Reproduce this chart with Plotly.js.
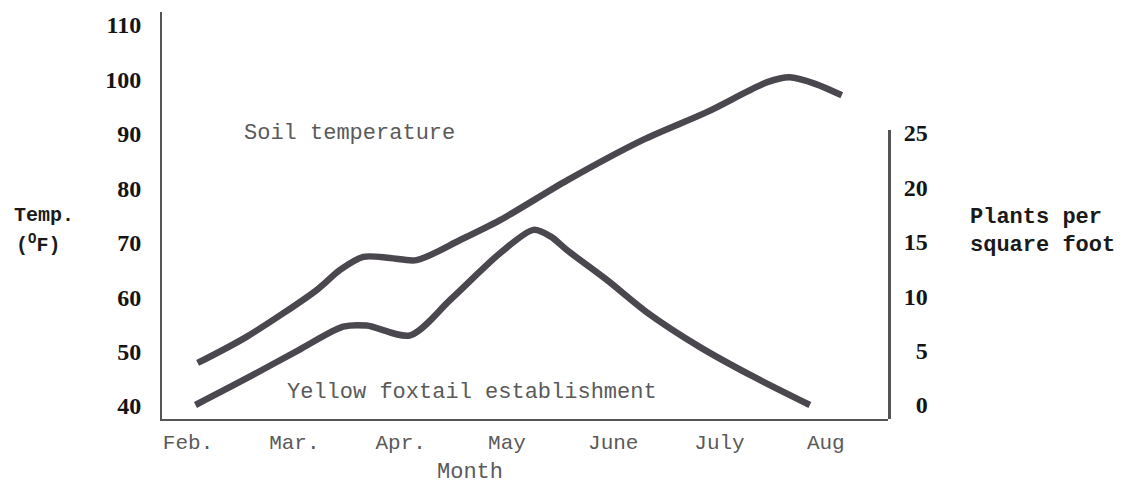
<!DOCTYPE html>
<html>
<head>
<meta charset="utf-8">
<script src="https://cdn.plot.ly/plotly-3.0.1.min.js"></script>
<style>html,body{margin:0;padding:0;background:#fff;}#chart{width:1125px;height:486px;}</style>
</head>
<body>
<div id="chart"></div>
<script>
// Month categories (position index 0..6)
const months = ['Feb.', 'Mar.', 'Apr.', 'May', 'June', 'July', 'Aug'];
const monthPos = [0, 1, 2, 3, 4, 5, 6];

// Soil temperature (°F) vs month position
const soilX = [0.09, 0.55, 1.21, 1.43, 1.65, 1.90, 2.15, 2.56, 2.94, 3.57, 4.28, 4.88, 5.45, 5.66, 5.90, 6.15];
const soilT = [47.9, 52.7, 61.3, 65.0, 67.4, 67.2, 66.8, 70.5, 74.2, 81.5, 88.9, 94.0, 99.5, 100.4, 99.2, 97.1];

// Yellow foxtail establishment (plants per square foot)
const foxX = [0.07, 0.58, 1.05, 1.46, 1.68, 2.09, 2.47, 2.94, 3.25, 3.41, 3.57, 3.94, 4.32, 4.82, 5.32, 5.85];
const foxP = [0.0, 2.6, 5.1, 7.2, 7.3, 6.4, 9.7, 14.0, 16.1, 15.5, 14.2, 11.5, 8.5, 5.3, 2.6, 0.0];

// Axis ticks
const tempTicks = [40, 50, 60, 70, 80, 90, 100, 110];
const plantTicks = [0, 5, 10, 15, 20, 25];
const plantTickText = ['\u20070', '\u20075', '10', '15', '20', '25'];

const lineColor = '#4a474e';
const numFont = {family: 'Liberation Serif, serif', size: 24, color: '#141414', weight: 'bold'};
const monoGray = {family: 'Liberation Mono, monospace', size: 22, color: '#5a5a5a'};
const monoDark = {family: 'Liberation Mono, monospace', size: 22, color: '#1a1a1a', weight: 'bold'};

const traces = [
  {x: soilX, y: soilT, type: 'scatter', mode: 'lines', xaxis: 'x', yaxis: 'y',
   line: {color: lineColor, width: 6.5, shape: 'spline', smoothing: 0.8}, hoverinfo: 'skip'},
  {x: foxX, y: foxP, type: 'scatter', mode: 'lines', xaxis: 'x', yaxis: 'y2',
   line: {color: lineColor, width: 6.5, shape: 'spline', smoothing: 0.8}, hoverinfo: 'skip'}
];

const layout = {
  width: 1125, height: 486,
  margin: {l: 162, r: 237, t: 12, b: 67, pad: 0},
  paper_bgcolor: '#fff', plot_bgcolor: 'rgba(0,0,0,0)',
  showlegend: false,
  xaxis: {
    range: [-0.245, 6.585], tickvals: monthPos, ticktext: months,
    showgrid: false, zeroline: false, showline: true, linecolor: '#555', linewidth: 2,
    ticks: '', ticklabelstandoff: 3, tickfont: {family: 'Liberation Mono, monospace', size: 21, color: '#5a5a5a'},
    anchor: 'y', fixedrange: true
  },
  yaxis: {
    range: [37.6, 112.4], tickvals: tempTicks,
    showgrid: false, zeroline: false, showline: true, linecolor: '#555', linewidth: 2,
    ticks: '', ticklabelstandoff: 14, tickfont: numFont, anchor: 'x', fixedrange: true
  },
  yaxis2: {
    domain: [0, 0.710], range: [-1.287, 25.28], tickvals: plantTicks, ticktext: plantTickText,
    side: 'right', anchor: 'x',
    showgrid: false, zeroline: false, showline: true, linecolor: '#555', linewidth: 3,
    ticks: '', ticklabelstandoff: 8, tickfont: numFont, fixedrange: true
  },
  annotations: [
    {text: 'Soil temperature', xref: 'paper', yref: 'paper', x: (242 - 162) / 726, y: (419 - 133) / 407,
     xanchor: 'left', yanchor: 'middle', showarrow: false, font: monoGray},
    {text: 'Yellow foxtail establishment', xref: 'paper', yref: 'paper', x: (285 - 162) / 726, y: (419 - 392) / 407,
     xanchor: 'left', yanchor: 'middle', showarrow: false, font: monoGray},
    {text: 'Month', xref: 'paper', yref: 'paper', x: (470 - 162) / 726, y: (419 - 472) / 407,
     xanchor: 'center', yanchor: 'middle', showarrow: false, font: monoGray},
    {text: 'Temp.', xref: 'paper', yref: 'paper', x: (12 - 162) / 726, y: (419 - 216) / 407,
     xanchor: 'left', yanchor: 'middle', showarrow: false, font: {family: 'Liberation Mono, monospace', size: 20, color: '#1a1a1a', weight: 'bold'}},
    {text: '(<sup>O</sup>F)', xref: 'paper', yref: 'paper', x: (14 - 162) / 726, y: (419 - 244) / 407,
     xanchor: 'left', yanchor: 'middle', showarrow: false, font: {family: 'Liberation Mono, monospace', size: 20, color: '#1a1a1a', weight: 'bold'}},
    {text: 'Plants per', xref: 'paper', yref: 'paper', x: (968 - 162) / 726, y: (419 - 217) / 407,
     xanchor: 'left', yanchor: 'middle', showarrow: false, font: monoDark},
    {text: 'square foot', xref: 'paper', yref: 'paper', x: (968 - 162) / 726, y: (419 - 245) / 407,
     xanchor: 'left', yanchor: 'middle', showarrow: false, font: monoDark}
  ]
};

Plotly.newPlot('chart', traces, layout, {staticPlot: true, displayModeBar: false});
</script>
</body>
</html>
